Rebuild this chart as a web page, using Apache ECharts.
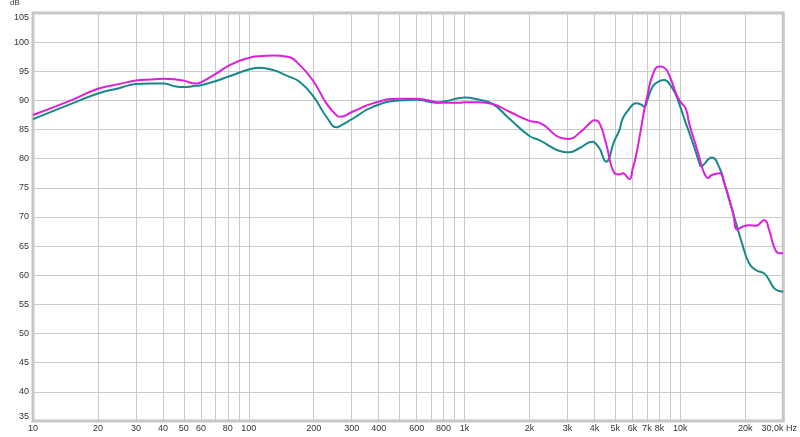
<!DOCTYPE html>
<html>
<head>
<meta charset="utf-8">
<script src="https://cdn.jsdelivr.net/npm/echarts@6/dist/echarts.min.js"></script>
<style>html,body{margin:0;padding:0;background:#fff}#c{width:800px;height:437px}</style>
</head>
<body>
<div id="c"></div>
<script>
// Frequencies (Hz)
const freqs = [10, 15, 20, 25, 30, 35, 40, 46, 50, 57, 60, 70, 82, 100, 112, 130, 151, 172, 200, 229, 256, 264, 304, 376, 500, 600, 740, 800, 950, 1000, 1170, 1350, 1610, 2000, 2220, 2850, 3060, 3400, 3920, 4000, 4220, 4530, 4940, 5220, 5410, 5810, 6000, 6240, 6580, 6810, 7000, 7450, 8000, 8440, 9000, 9550, 10000, 10600, 11000, 11600, 12200, 12500, 13000, 13400, 14000, 15200, 16000, 17500, 18400, 19100, 20800, 22400, 24500, 25800, 27200, 28700, 30000];
// Magenta curve (dB)
const magenta = [87.5, 90.0, 92.0, 92.8, 93.4, 93.6, 93.7, 93.6, 93.4, 92.9, 93.1, 94.5, 96.1, 97.3, 97.6, 97.7, 97.5, 96.1, 93.2, 89.5, 87.4, 87.2, 88.1, 89.5, 90.3, 90.3, 89.7, 89.6, 89.6, 89.7, 89.7, 89.4, 88.1, 86.5, 86.2, 83.5, 83.4, 84.4, 86.5, 86.6, 86.1, 82.6, 77.6, 77.3, 77.5, 76.5, 78.1, 80.6, 85.2, 88.4, 90.4, 94.4, 95.8, 95.6, 93.8, 91.2, 89.8, 88.6, 86.0, 83.2, 80.5, 79.0, 77.3, 76.7, 77.2, 77.5, 75.8, 70.9, 67.8, 68.2, 68.6, 68.5, 69.5, 67.8, 64.9, 63.8, 63.8];
// Teal curve (dB)
const teal = [86.8, 89.4, 91.2, 92.1, 92.8, 92.9, 92.9, 92.4, 92.3, 92.5, 92.6, 93.3, 94.2, 95.3, 95.6, 95.2, 94.2, 93.2, 90.6, 87.2, 85.4, 85.6, 86.9, 88.9, 90.0, 90.1, 89.6, 89.8, 90.4, 90.5, 90.1, 89.4, 86.9, 83.9, 83.2, 81.2, 81.1, 81.8, 82.9, 82.8, 81.8, 79.5, 83.0, 84.9, 86.9, 88.6, 89.2, 89.5, 89.3, 88.9, 89.8, 92.4, 93.3, 93.5, 92.6, 90.9, 88.9, 86.1, 84.5, 82.0, 79.5, 78.7, 79.2, 79.8, 80.2, 78.4, 75.8, 70.9, 68.1, 66.1, 62.1, 60.9, 60.3, 59.2, 57.8, 57.3, 57.2];
// Gridline frequencies and labelled ticks
const gridFreqs = [10,20,30,40,50,60,70,80,90,100,200,300,400,500,600,700,800,900,1000,2000,3000,4000,5000,6000,7000,8000,9000,10000,20000,30000];
const labelFreqs = [10,20,30,40,50,60,80,100,200,300,400,600,800,1000,2000,3000,4000,5000,6000,7000,8000,10000,20000,30000];
const labelTexts = ['10','20','30','40','50','60','80','100','200','300','400','600','800','1k','2k','3k','4k','5k','6k','7k','8k','10k','20k','30,0k Hz'];
const yMin = 35, yMax = 105, yStep = 5;

const lg = v => Math.log10(v);
const toPairs = arr => freqs.map((f, i) => [lg(f), arr[i]]);

const chart = echarts.init(document.getElementById('c'), null, {renderer: 'canvas'});
const font = 'Liberation Sans, Arial, sans-serif';
chart.setOption({
  animation: false,
  backgroundColor: '#fff',
  grid: {left: 33, right: 16, top: 13, bottom: 16, show: true, borderColor: '#c4c4c4', borderWidth: 3, backgroundColor: 'transparent'},
  graphic: [{type: 'text', left: 10, top: -1, style: {text: 'dB', fontSize: 8, fontFamily: font, fill: '#333'}}],
  xAxis: {
    type: 'value', min: lg(10), max: lg(30000),
    axisLine: {show: false},
    axisTick: {show: false, customValues: gridFreqs.map(lg)},
    splitLine: {show: true, lineStyle: {color: '#cbcbcb', width: 1}},
    axisLabel: {
      customValues: labelFreqs.map(lg), margin: 3, fontSize: 9, fontFamily: font, color: '#333',
      formatter: v => {
        let best = 0, bd = 1e9;
        labelFreqs.forEach((f, i) => { const d = Math.abs(lg(f) - v); if (d < bd) { bd = d; best = i; } });
        return best === labelFreqs.length - 1 ? '{e|' + labelTexts[best] + '}' : labelTexts[best];
      },
      rich: {e: {fontSize: 9, fontFamily: font, color: '#333', padding: [0, 8, 0, 0]}}
    }
  },
  yAxis: {
    type: 'value', min: yMin, max: yMax, interval: yStep,
    axisLine: {show: false}, axisTick: {show: false},
    splitLine: {show: true, lineStyle: {color: '#cbcbcb', width: 1}},
    axisLabel: {margin: 4, fontSize: 9, fontFamily: font, color: '#333', verticalAlignMaxLabel: 'top', verticalAlignMinLabel: 'bottom'}
  },
  series: [
    {type: 'line', data: toPairs(teal), smooth: 0.5, symbol: 'none', lineStyle: {color: '#17898a', width: 2}},
    {type: 'line', data: toPairs(magenta), smooth: 0.5, symbol: 'none', lineStyle: {color: '#dc1fdc', width: 2}}
  ]
});
</script>
</body>
</html>
